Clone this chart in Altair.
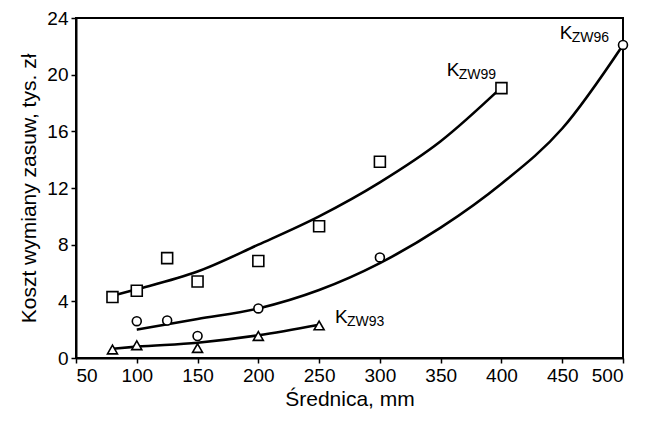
import altair as alt
import pandas as pd

# measured points
sq_x = [80, 100, 125, 150, 200, 250, 300, 400]
sq_y = [4.3, 4.75, 7.05, 5.4, 6.85, 9.3, 13.85, 19.05]
ci_x = [100, 125, 150, 200, 300, 500]
ci_y = [2.6, 2.65, 1.55, 3.5, 7.1, 22.1]
tr_x = [80, 100, 150, 200, 250]
tr_y = [0.6, 0.9, 0.7, 1.55, 2.3]

# fitted curves
k99_x = [80, 100, 150, 200, 250, 300, 350, 400]
k99_y = [4.4, 4.85, 6.1, 8.0, 10.0, 12.4, 15.3, 19.1]
k96_x = [100, 150, 200, 250, 300, 350, 400, 450, 500]
k96_y = [2.0, 2.75, 3.5, 4.8, 6.7, 9.2, 12.3, 16.2, 22.1]
k93_x = [80, 100, 150, 200, 250]
k93_y = [0.65, 0.8, 1.08, 1.6, 2.35]

# curve labels: main letter + subscript
lab_x = [355, 448, 263]
lab_y = [19.9, 22.55, 2.5]
lab_sub = ["ZW99", "ZW96", "ZW93"]

FONT = "Liberation Sans"

xs = alt.Scale(domain=[50, 500], nice=False, zero=False)
ys = alt.Scale(domain=[0, 24], nice=False)

common = dict(grid=False, tickSize=5,
              labelFont=FONT, titleFont=FONT, labelFontSize=19, titleFontSize=21,
              labelColor="black", titleColor="black", titleFontWeight="normal",
              domainColor="black", domainWidth=2, tickColor="black", tickWidth=1.5)
xax = alt.Axis(values=[50, 100, 150, 200, 250, 300, 350, 400, 450, 500], title="Średnica, mm",
               labelPadding=3, titlePadding=3, **common)
yax = alt.Axis(values=[0, 4, 8, 12, 16, 20, 24], title="Koszt wymiany zasuw, tys. zł",
               labelPadding=3, titlePadding=7, **common)

def line(xv, yv):
    df = pd.DataFrame({"x": xv, "y": yv})
    return alt.Chart(df).mark_line(color="black", strokeWidth=2.6, interpolate="monotone").encode(
        x=alt.X("x:Q", scale=xs, axis=xax), y=alt.Y("y:Q", scale=ys, axis=yax))

def pts(xv, yv, shape, size):
    df = pd.DataFrame({"x": xv, "y": yv})
    return alt.Chart(df).mark_point(shape=shape, size=size, filled=True, fill="white",
                                    stroke="black", strokeWidth=1.6, opacity=1).encode(
        x=alt.X("x:Q", scale=xs), y=alt.Y("y:Q", scale=ys))

labdf = pd.DataFrame({"x": lab_x, "y": lab_y, "k": ["K"] * 3, "sub": lab_sub})
ktext = alt.Chart(labdf).mark_text(align="left", baseline="alphabetic", fontSize=19, font=FONT,
                                   color="black").encode(
    x=alt.X("x:Q", scale=xs), y=alt.Y("y:Q", scale=ys), text="k:N")
subtext = alt.Chart(labdf).mark_text(align="left", baseline="alphabetic", fontSize=14, font=FONT,
                                     color="black", dx=12, dy=3).encode(
    x=alt.X("x:Q", scale=xs), y=alt.Y("y:Q", scale=ys), text="sub:N")

chart = alt.layer(
    line(k99_x, k99_y), line(k96_x, k96_y), line(k93_x, k93_y),
    pts(sq_x, sq_y, "square", 120), pts(ci_x, ci_y, "circle", 80), pts(tr_x, tr_y, "triangle-up", 100),
    ktext, subtext,
).properties(
    width=547, height=340, autosize=alt.AutoSizeParams(type="none"),
    padding={"left": 68, "top": 10, "right": 26, "bottom": 55},
    background="white",
).configure_view(stroke="black", strokeWidth=2)

chart.save("out.html", embed_options={"renderer": "svg", "actions": False})
